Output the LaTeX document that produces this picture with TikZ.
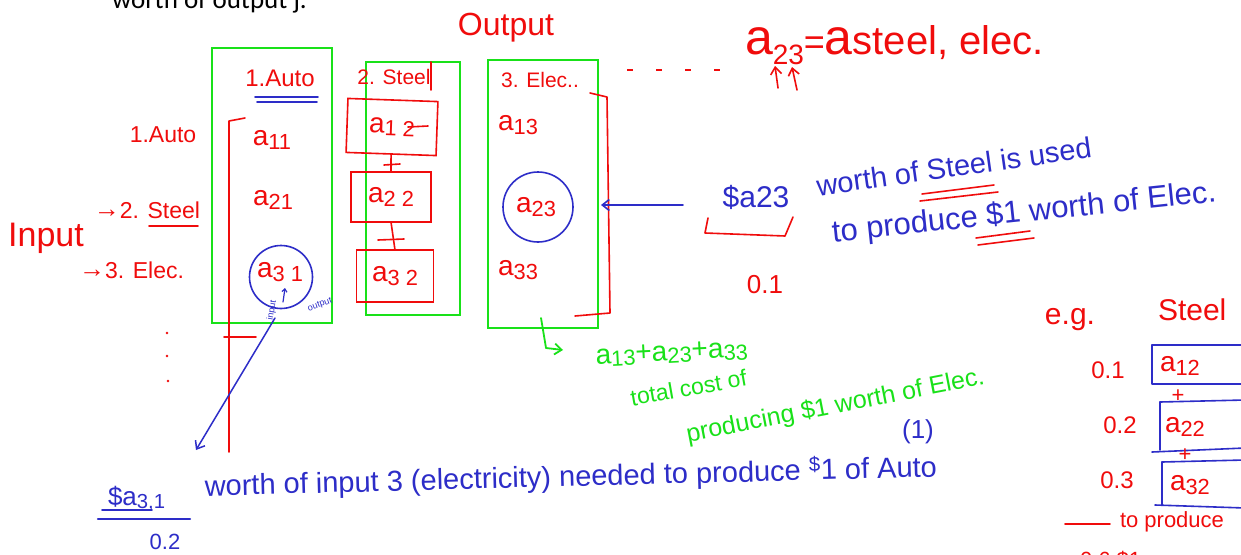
\documentclass[tikz,border=0pt]{standalone}
\usepackage{fontspec}
\setmainfont{Liberation Sans}
\newfontfamily\hdfont{Carlito}
\usetikzlibrary{arrows.meta}
\definecolor{pred}{RGB}{240,12,12}
\definecolor{pgreen}{RGB}{25,225,25}
\definecolor{pblue}{RGB}{45,45,200}
\newcommand\lo[1]{\raisebox{-0.12em}{\scalebox{0.78}{#1}}}
\begin{document}
\begin{tikzpicture}[x=1pt,y=-1pt,
  every node/.style={inner sep=0pt,outer sep=0pt},
  fs/.style={font=\fontsize{#1}{#1}\selectfont},
  rt/.style={text=pred}, bt/.style={text=pblue}, gt/.style={text=pgreen},
  rl/.style={draw=pred,line width=1.6pt,line cap=round,line join=round},
  bl/.style={draw=pblue,line width=1.6pt,line cap=round,line join=round},
  gl/.style={draw=pgreen,line width=1.8pt,line cap=round,line join=round},
  gbox/.style={draw=pgreen,line width=1.8pt,fill=none},
  rbox/.style={draw=pred,line width=1.6pt},
  barb/.style={-{Straight Barb[length=7pt,width=11pt]}}]
\path[use as bounding box] (0,0) rectangle (1241,554);
\fill[white] (0,0) rectangle (1241,554);
\clip (0,0) rectangle (1241,554);

% header text (cut off)
\node[anchor=base west,font=\hdfont\fontsize{27}{27}\selectfont] (hdr) at (112,9) {worth of output j.};
\node[rt,fs=32] (outlbl) at (506,28) {Output};

% green column boxes
\node[gbox,minimum width=120pt,minimum height=275pt] (colA) at (272,185.5) {};
\node[gbox,minimum width=94pt,minimum height=253pt] (colS) at (413,188.5) {};
\node[gbox,minimum width=110pt,minimum height=268pt] (colE) at (543,194) {};

% column headers
\node[rt,fs=24] (hA) at (280,78) {1.Auto};
\draw[bl] (255,97) -- (318,97);
\draw[bl] (257,102) -- (317,102);
\node[rt,fs=21] (hS) at (394,77) {2. Steel};
\draw[rl] (431,62) -- (431,90);
\node[rt,fs=21] (hE) at (540,80) {3. Elec..};
\draw[pred,line width=2pt,dash pattern=on 6pt off 23pt] (627,70) -- (722,70);

% a23 = a steel,elec.
\node[rt,anchor=base west] (eq) at (745,54) {{\fontsize{50}{50}\selectfont a}\raisebox{-10pt}{\fontsize{28}{28}\selectfont 23}{\fontsize{36}{36}\selectfont =}{\fontsize{50}{50}\selectfont a}{\fontsize{40}{40}\selectfont steel, elec.}};
\coordinate (u1) at (778,88); \coordinate (u1t) at (775,66);
\coordinate (u2) at (797,90); \coordinate (u2t) at (792,67);
\draw[rl,barb] (u1) -- (u1t);
\draw[rl,barb] (u2) -- (u2t);

% row labels
\node[rt,fs=23] (rA) at (163,135) {1.Auto};
\node[rt,fs=23,anchor=east] (rS) at (200,210) {\raisebox{1pt}{\fontsize{26}{26}\selectfont →}2. Steel};
\draw[rl] (149,226) -- (198,226);
\node[rt,fs=34] (inp) at (46,238) {Input};
\node[rt,fs=23,anchor=east] (rE) at (184,270) {\raisebox{1pt}{\fontsize{26}{26}\selectfont →}3. Elec.};
\fill[pred] (167,333) circle (1.3) (167,356) circle (1.3) (168,381) circle (1.3);

% left red bracket
\draw[rl] (245,118) -- (229,121) -- (229,452);
\draw[rl] (224,337) -- (256,337);

% column 1 cells
\node[rt,fs=28] (a11) at (272,140) {a\lo{11}};
\node[rt,fs=28] (a21) at (273,200) {a\lo{21}};
\node[rt,fs=28] (a31) at (280,272) {a\lo{3 1}};
\node[draw=pblue,line width=1.6pt,circle,minimum size=63pt] (c31) at (281,277) {};
\coordinate (ia) at (283,302); \coordinate (ib) at (285,288);
\draw[bl,line width=1.2pt,-{Straight Barb[length=3pt,width=5pt]}] (ia) -- (ib);
\node[bt,fs=9,rotate=80] (inl) at (272,310) {input};
\node[bt,fs=9,rotate=20] (outl) at (320,305) {output};
\coordinate (ls) at (275,318); \coordinate (lt) at (196,450);
\draw[bl,line width=1.5pt,barb] (ls) -- (lt);

% column 2 cells in boxes
\node[rbox,rt,fs=28,minimum width=90pt,minimum height=54pt,rotate=-2] (a12) at (392,127) {a\lo{1 2}};
\draw[rl] (408,127) -- (428,126);
\node[rbox,rt,fs=28,minimum width=80pt,minimum height=50pt] (a22) at (391,197) {a\lo{2 2}};
\node[rbox,rt,fs=28,minimum width=77pt,minimum height=52pt] (a32) at (395,276) {a\lo{3 2}};
\draw[rl] (a12.south) -- (a22.north);
\draw[rl] (384,165) -- (400,164);
\draw[rl] (a22.south) -- (a32.north);
\draw[rl] (378,240) -- (404,239);

% column 3 cells
\node[rt,fs=28] (a13) at (518,125) {a\lo{13}};
\node[rt,fs=28] (a23) at (536,207) {a\lo{23}};
\node[draw=pblue,line width=1.6pt,circle,minimum size=70pt] (c23) at (538,207) {};
\node[rt,fs=28] (a33) at (518,270) {a\lo{33}};
\draw[rl] (590,93) -- (607,97) -- (610,313) -- (575,316);

% arrow from explanation
\coordinate (ar1) at (683,205); \coordinate (ar2) at (601,205);
\draw[bl,barb] (ar1) -- (ar2);
\node[bt,fs=30] (d23) at (756,197) {\$a23};
\draw[rl] (708,218) -- (705,233) -- (785,236) -- (793,217);
\node[rt,fs=26] (v23) at (765,285) {0.1};

% blue sentence
\node[bt,fs=29,rotate=8,anchor=base west] (s1) at (818,196) {worth of Steel is used};
\node[bt,fs=31,rotate=6,anchor=base west] (s2) at (833,242) {to produce \$1 worth of Elec.};
\draw[rl] (922,194) -- (994,185);
\draw[rl] (920,201) -- (998,192);
\draw[rl] (976,238) -- (1030,231);
\draw[rl] (978,245) -- (1034,238);

% green sum
\coordinate (g0) at (541,318); \coordinate (g1) at (546,348); \coordinate (g2) at (563,350);
\draw[gl,barb] (g0) -- (g1) -- (g2);
\node[gt,fs=28,rotate=3,anchor=base west] (gsum) at (596,364) {a\lo{13}+a\lo{23}+a\lo{33}};
\node[gt,fs=23,rotate=10,anchor=base west] (gt1) at (632,406) {total cost of};
\node[gt,fs=25,rotate=11,anchor=base west] (gt2) at (688,442) {producing \$1 worth of Elec.};

% blue bottom sentence
\node[bt,fs=26,anchor=base west] (d31) at (108,505) {\$a\lo{3,1}};
\draw[bl] (102,510) -- (152,510);
\draw[bl,line width=2.2pt] (98,519) -- (190,519);
\node[bt,fs=22] (v31) at (165,542) {0.2};
\node[bt,fs=29,rotate=1.5,anchor=base west] (s3) at (205,496) {worth of input 3 (electricity) needed to produce \textsuperscript{\$}1 of Auto};
\node[bt,fs=26] (n1) at (918,432) {(1)};

% right example
\node[rt,fs=30] (eg) at (1070,320) {e.g.};
\node[rt,fs=30,anchor=west] (stl) at (1158,310) {Steel};
\node[rt,fs=24] (v1) at (1108,370) {0.1};
\draw[bl] (1152,345) -- (1245,345);
\draw[bl] (1152,345) -- (1152,384) -- (1245,384);
\node[rt,fs=28,anchor=west] (e12) at (1160,366) {a\lo{12}};
\node[rt,fs=22] (p1) at (1178,396) {+};
\node[rt,fs=24] (v2) at (1120,425) {0.2};
\draw[bl] (1160,402) -- (1245,400);
\draw[bl] (1160,402) -- (1160,450);
\draw[bl] (1152,452) -- (1245,448);
\node[rt,fs=28,anchor=west] (e22) at (1165,427) {a\lo{22}};
\node[rt,fs=22] (p2) at (1185,455) {+};
\node[rt,fs=24] (v3) at (1117,480) {0.3};
\draw[bl] (1162,462) -- (1245,460);
\draw[bl] (1162,462) -- (1162,505);
\draw[bl] (1155,505) -- (1245,508);
\node[rt,fs=28,anchor=west] (e32) at (1170,485) {a\lo{32}};
\draw[rl] (1065,524) -- (1110,524);
\node[rt,fs=22,anchor=west] (tp) at (1120,522) {to produce};
\node[rt,fs=22,anchor=west] (v6) at (1080,560) {0.6 \$1};
\end{tikzpicture}
\end{document}
